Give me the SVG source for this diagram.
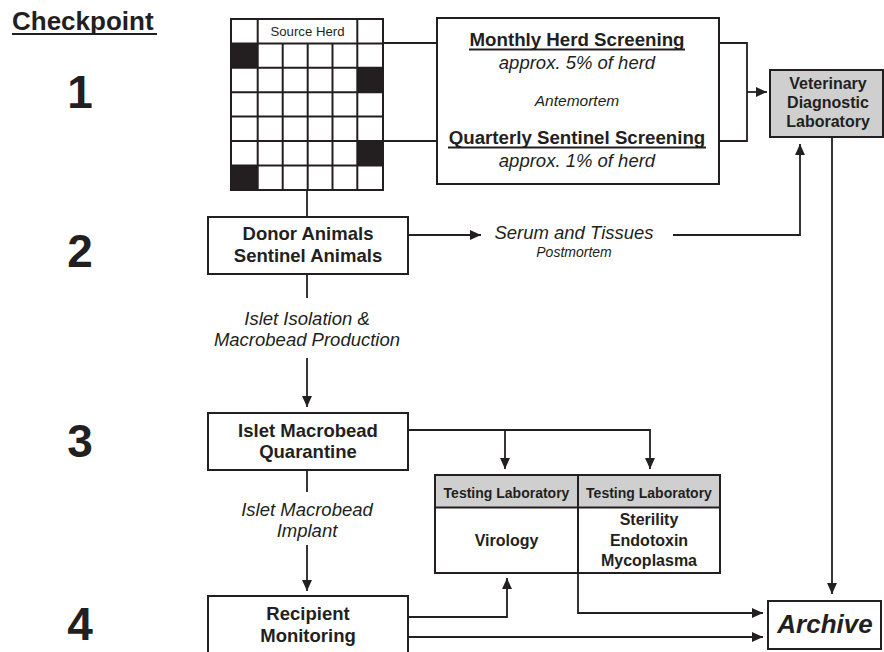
<svg xmlns="http://www.w3.org/2000/svg" width="884" height="652" viewBox="0 0 884 652">
<style>
text{font-family:"Liberation Sans",Arial,Helvetica,sans-serif;fill:#231f20}
.b{font-weight:bold}
.i{font-style:italic}
.c{text-anchor:middle}
.box{fill:#fff;stroke:#231f20;stroke-width:2}
.gray{fill:#cfcfcf;stroke:#231f20;stroke-width:2}
.ln{fill:none;stroke:#231f20;stroke-width:1.8}
.arr{fill:none;stroke:#231f20;stroke-width:1.8;marker-end:url(#ah)}
.ul{stroke:#231f20;stroke-width:1.8}
.num{font-size:46px;font-weight:bold;text-anchor:middle}
</style>
<defs>
<marker id="ah" viewBox="0 0 10 10" refX="10" refY="5" markerWidth="11" markerHeight="11" markerUnits="userSpaceOnUse" orient="auto">
<path d="M0,0.5 L10,5 L0,9.5 z" fill="#231f20"/>
</marker>
</defs>
<rect width="884" height="652" fill="#fff"/>

<g id="checkpoints">
<text x="12" y="30" class="b" font-size="26">Checkpoint</text>
<line x1="12" y1="34" x2="157" y2="34" class="ul" stroke-width="2"/>
<text x="80" y="108" class="num">1</text>
<text x="80" y="267" class="num">2</text>
<text x="80" y="457" class="num">3</text>
<text x="80" y="640" class="num">4</text>
</g>

<g id="connectors">
<path class="ln" d="M383,43 H437"/>
<path class="ln" d="M383,141 H437"/>
<path class="ln" d="M719,43 H747 V141 H719"/>
<path class="arr" d="M747,92 H767"/>
<path class="ln" d="M307,190 V217"/>
<path class="arr" d="M408,235 H481"/>
<path class="arr" d="M673,235 H800 V144"/>
<path class="arr" d="M832,137 V594"/>
<path class="ln" d="M307,274 V298"/>
<path class="arr" d="M307,358 V407"/>
<path class="ln" d="M307,470 V492"/>
<path class="arr" d="M307,545 V591"/>
<path class="arr" d="M408,430 H650 V469"/>
<path class="arr" d="M505,430 V469"/>
<path class="arr" d="M408,617 H507 V578"/>
<path class="arr" d="M408,637 H763"/>
<path class="arr" d="M578,573 V613 H763"/>
</g>

<g id="source-herd">
<rect x="231" y="19" width="152" height="171" class="box"/>
<g fill="#231f20">
<rect x="231" y="43.4" width="26.7" height="24.4"/>
<rect x="357.3" y="67.8" width="25.7" height="24.4"/>
<rect x="357.3" y="141" width="25.7" height="24.4"/>
<rect x="231" y="165.4" width="26.7" height="24.6"/>
</g>
<g stroke="#231f20" stroke-width="2">
<line x1="257.7" y1="19" x2="257.7" y2="190"/>
<line x1="357.3" y1="19" x2="357.3" y2="190"/>
<line x1="282.7" y1="43.4" x2="282.7" y2="190"/>
<line x1="307.7" y1="43.4" x2="307.7" y2="190"/>
<line x1="332.5" y1="43.4" x2="332.5" y2="190"/>
<line x1="231" y1="43.4" x2="383" y2="43.4"/>
<line x1="231" y1="67.8" x2="383" y2="67.8"/>
<line x1="231" y1="92.2" x2="383" y2="92.2"/>
<line x1="231" y1="116.6" x2="383" y2="116.6"/>
<line x1="231" y1="141" x2="383" y2="141"/>
<line x1="231" y1="165.4" x2="383" y2="165.4"/>
</g>
<text x="307.5" y="35.5" class="c" font-size="13.2">Source Herd</text>
</g>

<g id="screening">
<rect x="437" y="18" width="282" height="166" class="box"/>
<text x="577" y="46" class="b c" font-size="18.7">Monthly Herd Screening</text>
<line x1="469" y1="49.5" x2="685" y2="49.5" class="ul"/>
<text x="577" y="69" class="i c" font-size="18.5">approx. 5% of herd</text>
<text x="577" y="105.5" class="i c" font-size="15.5">Antemortem</text>
<text x="577" y="144" class="b c" font-size="18.7">Quarterly Sentinel Screening</text>
<line x1="448" y1="147.5" x2="706" y2="147.5" class="ul"/>
<text x="577" y="166.5" class="i c" font-size="18.5">approx. 1% of herd</text>
</g>

<g id="vet-lab">
<rect x="770" y="70" width="113" height="67" class="gray"/>
<text x="828" y="89" class="b c" font-size="16">Veterinary</text>
<text x="828" y="107.5" class="b c" font-size="16">Diagnostic</text>
<text x="828" y="126.5" class="b c" font-size="16">Laboratory</text>
</g>

<g id="donor">
<rect x="208" y="217" width="200" height="57" class="box"/>
<text x="308" y="240" class="b c" font-size="18.5">Donor Animals</text>
<text x="308" y="262" class="b c" font-size="18.5">Sentinel Animals</text>
</g>

<g id="serum-label">
<text x="574" y="239" class="i c" font-size="18.5">Serum and Tissues</text>
<text x="574" y="257" class="i c" font-size="14">Postmortem</text>
</g>

<g id="isolation-label">
<text x="307" y="325" class="i c" font-size="18.5">Islet Isolation &amp;</text>
<text x="307" y="346" class="i c" font-size="18.5">Macrobead Production</text>
</g>

<g id="quarantine">
<rect x="208" y="413" width="200" height="57" class="box"/>
<text x="308" y="436.5" class="b c" font-size="18.5">Islet Macrobead</text>
<text x="308" y="458" class="b c" font-size="18.5">Quarantine</text>
</g>

<g id="implant-label">
<text x="307" y="516" class="i c" font-size="18.5">Islet Macrobead</text>
<text x="307" y="537" class="i c" font-size="18.5">Implant</text>
</g>

<g id="testing-labs">
<rect x="435" y="475" width="285" height="98" class="box"/>
<rect x="435" y="475" width="285" height="32.5" class="gray"/>
<line x1="578" y1="475" x2="578" y2="573" stroke="#231f20" stroke-width="2"/>
<text x="506.5" y="498" class="b c" font-size="14">Testing Laboratory</text>
<text x="649" y="498" class="b c" font-size="14">Testing Laboratory</text>
<text x="506.5" y="546" class="b c" font-size="16">Virology</text>
<text x="649" y="525" class="b c" font-size="16">Sterility</text>
<text x="649" y="545.5" class="b c" font-size="16">Endotoxin</text>
<text x="649" y="565.5" class="b c" font-size="16">Mycoplasma</text>
</g>

<g id="recipient">
<rect x="208" y="596" width="200" height="70" class="box"/>
<text x="308" y="620" class="b c" font-size="18.5">Recipient</text>
<text x="308" y="642" class="b c" font-size="18.5">Monitoring</text>
</g>

<g id="archive">
<rect x="768" y="601" width="113" height="48" class="box"/>
<text x="825" y="633" class="b i c" font-size="26">Archive</text>
</g>
</svg>
